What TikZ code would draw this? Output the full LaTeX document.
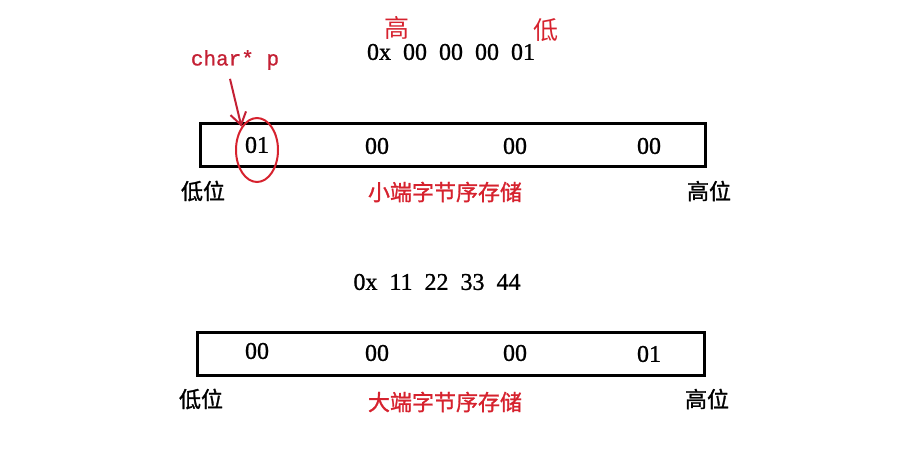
\documentclass[tikz,border=0pt]{standalone}
\usepackage{fontspec}
\setmainfont{Liberation Serif}
\setmonofont{Liberation Mono}
\newfontfamily\cjk[FakeBold=1.2]{Noto Sans CJK SC}
\newfontfamily\cjkthin{Noto Sans CJK SC}
\newfontfamily\hexfont[FakeBold=1]{Liberation Serif}
\newfontfamily\ptrfont[FakeBold=0.8]{Liberation Mono}
\usetikzlibrary{shapes.geometric,arrows.meta}
\definecolor{markred}{RGB}{214,34,46}
\definecolor{ptrred}{RGB}{196,32,52}

\begin{document}
\begin{tikzpicture}[x=0.5pt,y=-0.5pt,
    hexnum/.style={font=\hexfont\fontsize{12}{14}\selectfont},
    side/.style={font=\cjk\fontsize{11}{13}\selectfont},
    title/.style={font=\cjk\fontsize{11}{13}\selectfont,text=markred},
    order/.style={font=\cjkthin\fontsize{12.5}{14}\selectfont,text=markred},
    membox/.style={draw,line width=1.5pt}]
    \useasboundingbox (0,0) rectangle (913,459);
    % little endian
    \node[order] (hi) at (397,28) {高};
    \node[order] (lo) at (546,30) {低};
    \node[hexnum] (valA) at (451,52) {0x\ \ 00\ \ 00\ \ 00\ \ 01};
    \draw[membox] (200,124) rectangle (705,167);
    \node[hexnum] (a1) at (257,145) {01};
    \node[hexnum] (a2) at (377,146) {00};
    \node[hexnum] (a3) at (515,146) {00};
    \node[hexnum] (a4) at (649,146) {00};
    \node[draw=markred,line width=1pt,ellipse,minimum width=21pt,minimum height=32pt] (mark) at (257,150) {};
    \node[font=\ptrfont\fontsize{10.5}{12}\selectfont,text=ptrred] (ptr) at (235,60) {char* p};
    \draw[ptrred,line width=1pt,-{Straight Barb[length=6pt,width=8pt]}] (ptr.south) ++(-5,2) -- (mark.north west);
    \node[side] (lowA) at (203,191) {低位};
    \node[title] (little) at (445,192) {小端字节序存储};
    \node[side] (highA) at (709,191) {高位};
    % big endian
    \node[hexnum] (valB) at (437,282) {0x\ \ 11\ \ 22\ \ 33\ \ 44};
    \draw[membox] (197,332) rectangle (704,375);
    \node[hexnum] (b1) at (257,351) {00};
    \node[hexnum] (b2) at (377,353) {00};
    \node[hexnum] (b3) at (515,353) {00};
    \node[hexnum] (b4) at (649,354) {01};
    \node[side] (lowB) at (201,399) {低位};
    \node[title] (big) at (445,402) {大端字节序存储};
    \node[side] (highB) at (707,399) {高位};
\end{tikzpicture}
\end{document}
